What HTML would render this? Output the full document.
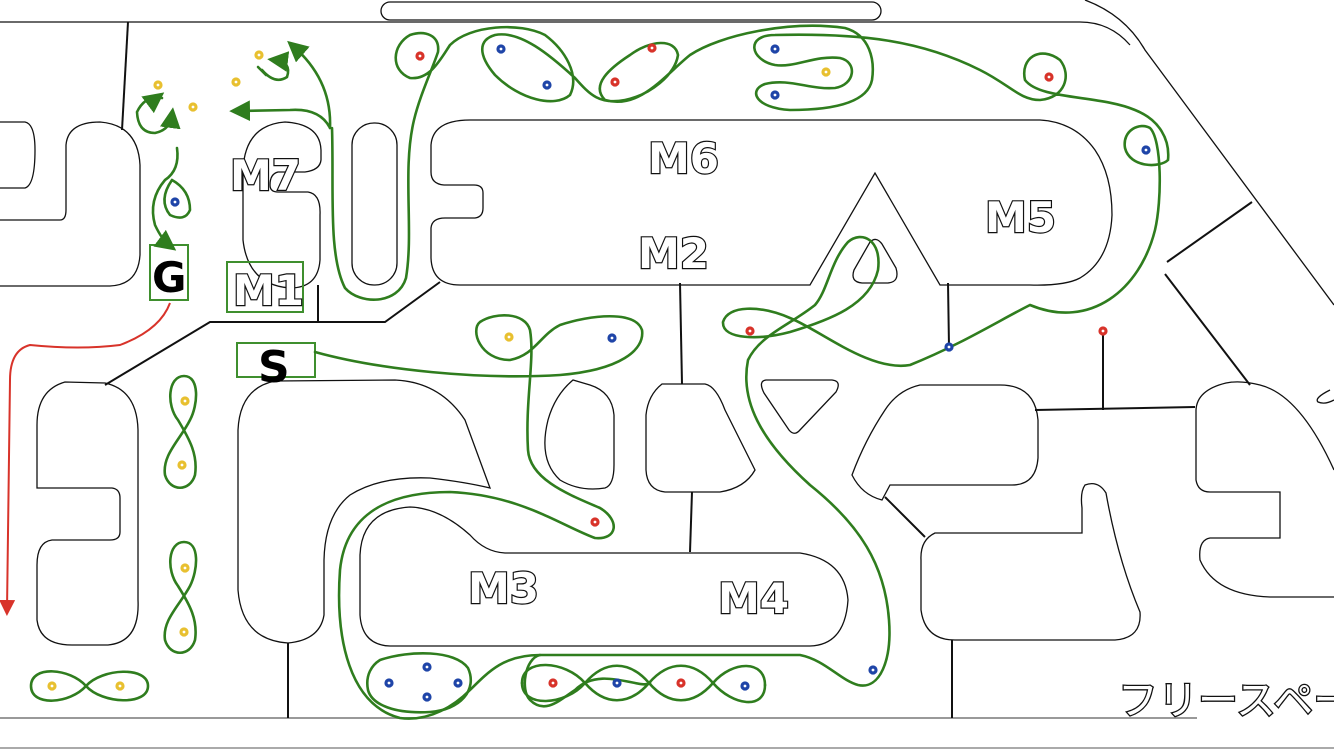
<!DOCTYPE html>
<html><head><meta charset="utf-8"><style>
html,body{margin:0;padding:0;background:#fff;width:1334px;height:750px;overflow:hidden}
svg{display:block}
.k{fill:none;stroke:#111;stroke-width:1.3}
.L{fill:none;stroke:#111;stroke-width:2}
.g{fill:none;stroke:#2f7d1e;stroke-width:2.6;stroke-linecap:round}
.lbl{font-family:"DejaVu Sans","Liberation Sans",sans-serif;font-weight:bold;font-size:42px;fill:#fff;stroke:#111;stroke-width:2.4;paint-order:stroke}
.box{fill:none;stroke:#3f8f2e;stroke-width:2}
</style></head><body>
<svg width="1334" height="750" viewBox="0 0 1334 750">
<defs>
<marker id="ag" markerWidth="8" markerHeight="8" refX="5" refY="4" orient="auto" markerUnits="strokeWidth"><path d="M0,0 L8,4 L0,8 Z" fill="#2f7d1e"/></marker>
<marker id="ar" markerWidth="8" markerHeight="8" refX="5" refY="4" orient="auto" markerUnits="strokeWidth"><path d="M0,0 L8,4 L0,8 Z" fill="#d8332a"/></marker>
</defs>
<path class="k" d="M0,22 H1080 Q1110,22 1130,45"/>
<path class="k" d="M1085,0 Q1125,15 1145,50 L1334,305"/>
<rect class="k" x="381" y="2" width="500" height="18" rx="9"/>
<line x1="0" y1="718" x2="1197" y2="718" stroke="#999" stroke-width="2"/>
<line x1="0" y1="748" x2="1334" y2="748" stroke="#aaa" stroke-width="2"/>
<path class="k" d="M0,122 H25 Q35,124 35,150 Q35,185 25,188 H0 M0,220 H60 Q66,220 66,210 V145 Q68,122 100,122 Q138,125 140,165 V255 Q138,285 110,286 H0"/>
<path class="k" d="M285,122 Q320,124 321,150 V160 Q320,170 305,172 H278 Q270,174 270,185 Q270,192 278,192 H308 Q321,194 320,215 V260 Q318,288 290,288 Q248,285 243,240 V170 Q245,125 285,122 Z"/>
<rect class="k" x="352" y="123" width="45" height="162" rx="22"/>
<path class="k" d="M470,120 H1040 Q1075,122 1095,150 Q1112,175 1112,215 Q1110,260 1080,278 Q1065,286 1030,285 H940 L875,173 L810,285 H460 Q432,285 431,258 V228 Q432,218 445,218 H475 Q483,217 483,208 V193 Q483,185 474,185 H444 Q431,184 431,172 V145 Q433,120 470,120 Z"/>
<path class="k" d="M870,242 Q876,236 882,244 L896,268 Q900,282 888,283 H862 Q850,282 854,270 Z"/>
<path class="k" d="M766,380 H832 Q842,381 836,392 L799,431 Q794,436 789,430 L764,393 Q758,381 766,380 Z"/>
<path class="L" d="M440,282 L385,322 H210 L105,385"/>
<path class="L" d="M318,285 V322"/><path class="L" d="M128,22 L122,130"/>
<path class="k" d="M65,382 Q37,390 37,425 V488 H112 Q120,489 120,498 V532 Q120,540 110,540 H52 Q37,542 37,565 V620 Q40,645 72,645 H108 Q140,642 138,600 V430 Q137,390 105,383 Z"/>
<path class="k" d="M275,381 Q240,388 238,430 V590 Q242,640 288,643 Q320,640 324,615 V560 Q325,515 350,495 Q380,476 430,478 Q465,482 490,488 Q478,455 465,420 Q440,382 395,380 Z"/>
<path class="L" d="M288,643 V718"/>
<path class="k" d="M573,380 Q555,395 548,420 Q538,460 560,480 Q580,492 605,488 Q614,485 614,465 V415 Q612,392 590,385 Z"/>
<path class="k" d="M662,384 H705 Q716,386 725,410 L755,470 Q745,488 720,492 H665 Q647,490 646,470 V415 Q648,395 662,384 Z"/>
<path class="L" d="M680,283 L682,384"/><path class="L" d="M692,492 L690,552"/>
<path class="k" d="M360,555 Q362,510 410,507 Q440,508 470,535 Q485,552 505,553 H800 Q845,560 848,600 Q845,645 810,646 H390 Q362,645 360,615 Z"/>
<path class="k" d="M885,410 Q865,440 852,475 Q862,495 882,500 L890,485 H1012 Q1036,485 1038,458 V420 Q1035,385 1000,385 H920 Q898,390 885,410 Z"/>
<path class="L" d="M1035,410 L1195,407"/><path class="L" d="M1103,332 V410"/>
<path class="L" d="M1165,274 L1250,385"/><path class="L" d="M1167,262 L1252,202"/>
<path class="L" d="M948,283 L949,347"/>
<path class="L" d="M885,497 L925,537"/>
<path class="k" d="M935,533 Q920,540 921,560 V610 Q925,640 955,640 H1115 Q1142,638 1140,612 Q1118,560 1106,493 Q1098,480 1085,485 Q1080,492 1082,508 V533 Z"/>
<path class="L" d="M952,640 V718"/>
<path class="k" d="M1226,383 Q1197,390 1196,410 V480 Q1198,492 1210,492 H1280 V538 H1210 Q1198,540 1200,560 Q1215,595 1270,597 H1334 M1334,470 Q1300,395 1260,385 Q1240,380 1226,383"/>
<path class="k" d="M1330,390 Q1314,398 1318,402 Q1325,405 1334,400"/>
<text class="lbl" x="230" y="190">M7</text>
<text class="lbl" x="648" y="173">M6</text>
<text class="lbl" x="638" y="268">M2</text>
<text class="lbl" x="985" y="232">M5</text>
<text class="lbl" x="468" y="603">M3</text>
<text class="lbl" x="718" y="613">M4</text>
<rect class="box" x="227" y="262" width="76" height="50"/>
<text class="lbl" x="233" y="305">M1</text>
<rect class="box" x="150" y="245" width="38" height="55"/>
<text x="152" y="292" font-family="DejaVu Sans,Liberation Sans,sans-serif" font-weight="bold" font-size="42" fill="#000">G</text>
<rect class="box" x="237" y="343" width="78" height="34"/>
<text x="258" y="382" font-family="DejaVu Sans,Liberation Sans,sans-serif" font-weight="bold" font-size="44" fill="#000">S</text>
<text x="1118" y="714" font-family="'Noto Sans CJK JP',sans-serif" font-size="40" fill="#fff" stroke="#111" stroke-width="2.6" paint-order="stroke">フリースペース</text>
<path d="M170,303 Q160,330 120,345 Q80,350 30,345 Q10,350 10,380 L7,610" fill="none" stroke="#d8332a" stroke-width="2" marker-end="url(#ar)"/>
<path class="g" d="M177,148 Q180,170 165,180 Q148,200 155,225 Q162,240 170,246" marker-end="url(#ag)"/>
<path class="g" d="M172,180 Q190,190 190,210 Q185,222 170,215 Q158,200 172,180"/>
<path class="g" d="M162,98 Q145,95 137,112 Q138,133 155,133 Q170,130 172,115" marker-end="url(#ag)"/>
<path class="g" d="M150,103 L158,97" marker-end="url(#ag)"/>
<path class="g" d="M330,128 Q320,108 290,110 L237,111" marker-end="url(#ag)"/>
<path class="g" d="M330,128 Q332,80 293,46" marker-end="url(#ag)"/>
<path class="g" d="M262,70 Q275,85 287,77 Q292,62 275,60" marker-end="url(#ag)"/>
<path class="g" d="M266,75 L258,67"/>
<path class="g" d="M332,128 C334,190 328,255 345,288 C360,305 398,305 406,278 C414,230 402,170 414,120 C420,95 432,70 438,52 C440,35 425,30 410,35 C392,45 390,70 410,78 C430,80 440,60 450,45 C470,25 520,22 545,35 C565,50 580,75 570,95 C555,108 520,100 495,75 C478,55 478,40 495,35 C520,30 550,55 575,78 C590,95 600,105 625,100 C650,95 675,75 678,55 C675,38 650,40 630,55 C610,68 590,85 605,100 C640,110 665,75 690,55 C720,35 790,20 845,28 C870,35 875,60 872,80 C868,100 840,110 790,110 C755,108 748,90 765,84 C790,78 810,90 835,88 C855,85 858,62 840,58 C815,55 795,68 775,65 C750,60 745,35 775,35 C860,33 920,40 980,70 C1010,85 1020,100 1040,100 C1065,98 1072,75 1060,60 C1040,45 1020,58 1025,80 C1040,100 1100,95 1135,110 C1160,120 1170,140 1168,160 C1160,168 1130,168 1125,148 C1122,130 1140,122 1150,128 C1162,140 1162,200 1155,230 C1140,290 1090,330 1030,305 C1000,320 960,345 910,365 C870,372 820,330 790,318 C760,305 728,305 723,322 C722,340 760,340 790,332 C830,320 870,305 878,270 C882,240 862,230 848,242 C830,262 828,290 815,305 C790,325 760,335 748,360 C740,400 760,440 810,485 C860,525 885,565 889,620 C892,660 880,690 858,685 C840,680 825,660 800,655 H540 C525,658 520,690 530,700 C545,715 560,700 575,690 C600,665 640,690 650,683"/>
<path class="g" d="M522,683 C522,658 565,660 585,683 C605,706 629,706 649,683 C669,660 693,660 713,683 C733,706 765,710 765,685"/>
<path class="g" d="M522,683 C522,708 565,706 585,683 C605,660 629,660 649,683 C669,706 693,706 713,683 C733,660 765,660 765,685"/>
<path class="g" d="M315,352 C380,370 480,380 560,375 C620,370 645,350 642,330 C635,310 590,315 560,325 C540,335 535,355 510,360 C480,360 470,330 480,322 C495,312 525,312 530,330 C535,360 525,400 528,450 C530,480 570,495 600,508 C620,520 618,540 595,538 C560,525 520,495 450,492 C380,492 345,520 340,570 C335,640 350,705 400,718 C430,722 455,705 470,690 C490,670 505,655 540,655"/>
<path class="g" d="M380,660 C410,650 455,650 468,668 C478,690 460,710 430,712 C395,714 372,705 368,690 C365,675 372,665 380,660 Z"/>
<path class="g" d="M184,376 C168,376 166,405 178,420 C190,440 198,455 195,475 C190,492 170,492 165,475 C162,455 180,440 190,420 C198,405 200,376 184,376 Z"/>
<path class="g" d="M184,542 C168,542 166,570 178,586 C190,605 198,620 195,640 C190,657 170,657 165,640 C162,620 180,605 190,586 C198,570 200,542 184,542 Z"/>
<path class="g" d="M31,686 C31,665 70,668 86,686 C102,704 148,706 148,686 C148,666 102,668 86,686 C70,704 31,707 31,686 Z"/>
<g stroke-width="3.2" fill="#fff">
<circle cx="158" cy="85" r="3" stroke="#e8c030"/><circle cx="193" cy="107" r="3" stroke="#e8c030"/>
<circle cx="259" cy="55" r="3" stroke="#e8c030"/><circle cx="236" cy="82" r="3" stroke="#e8c030"/>
<circle cx="175" cy="202" r="3" stroke="#1f45a8"/>
<circle cx="420" cy="56" r="3" stroke="#d8332a"/>
<circle cx="501" cy="49" r="3" stroke="#1f45a8"/><circle cx="547" cy="85" r="3" stroke="#1f45a8"/>
<circle cx="652" cy="48" r="3" stroke="#d8332a"/><circle cx="615" cy="82" r="3" stroke="#d8332a"/>
<circle cx="775" cy="49" r="3" stroke="#1f45a8"/><circle cx="826" cy="72" r="3" stroke="#e8c030"/><circle cx="775" cy="95" r="3" stroke="#1f45a8"/>
<circle cx="1049" cy="77" r="3" stroke="#d8332a"/><circle cx="1146" cy="150" r="3" stroke="#1f45a8"/>
<circle cx="750" cy="331" r="3" stroke="#d8332a"/><circle cx="949" cy="347" r="3" stroke="#1f45a8"/><circle cx="1103" cy="331" r="3" stroke="#d8332a"/>
<circle cx="509" cy="337" r="3" stroke="#e8c030"/><circle cx="612" cy="338" r="3" stroke="#1f45a8"/>
<circle cx="595" cy="522" r="3" stroke="#d8332a"/>
<circle cx="185" cy="401" r="3" stroke="#e8c030"/><circle cx="182" cy="465" r="3" stroke="#e8c030"/>
<circle cx="185" cy="568" r="3" stroke="#e8c030"/><circle cx="184" cy="632" r="3" stroke="#e8c030"/>
<circle cx="52" cy="686" r="3" stroke="#e8c030"/><circle cx="120" cy="686" r="3" stroke="#e8c030"/>
<circle cx="427" cy="667" r="3" stroke="#1f45a8"/><circle cx="389" cy="683" r="3" stroke="#1f45a8"/><circle cx="458" cy="683" r="3" stroke="#1f45a8"/><circle cx="427" cy="697" r="3" stroke="#1f45a8"/>
<circle cx="553" cy="683" r="3" stroke="#d8332a"/><circle cx="617" cy="683" r="3" stroke="#1f45a8"/><circle cx="681" cy="683" r="3" stroke="#d8332a"/><circle cx="745" cy="686" r="3" stroke="#1f45a8"/>
<circle cx="873" cy="670" r="3" stroke="#1f45a8"/>
</g>
</svg>
</body></html>
